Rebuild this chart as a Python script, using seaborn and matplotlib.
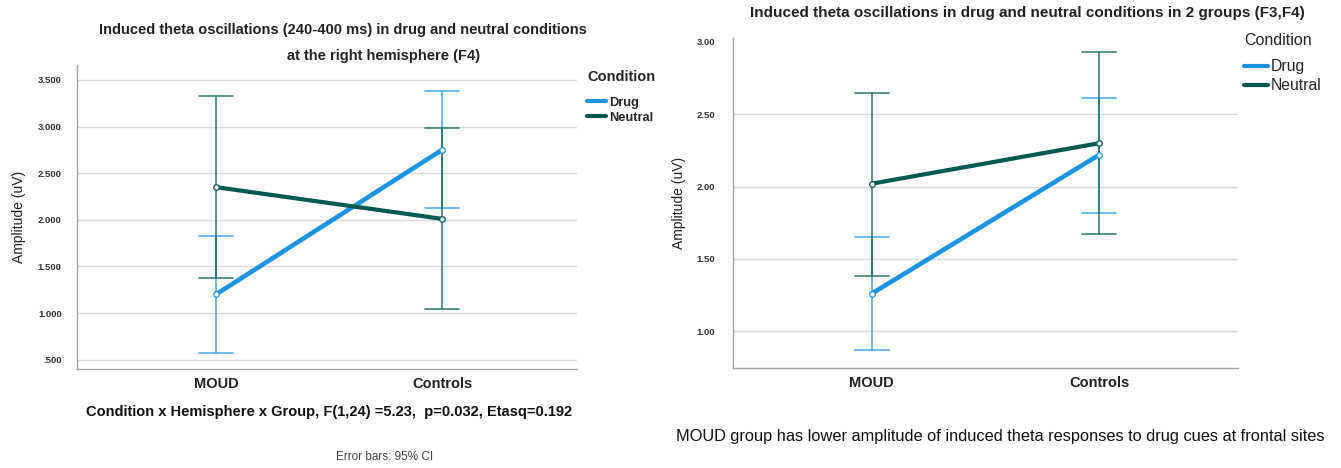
import numpy as np
import pandas as pd
import matplotlib
matplotlib.use("Agg")
import matplotlib.pyplot as plt
from matplotlib.lines import Line2D
import seaborn as sns

# ---------------- data ----------------
groups = ["MOUD", "Controls"]
conditions = ["Drug", "Neutral"]

# Left panel: right hemisphere (F4), means and 95% CI bounds
f4_mean_drug = [1.20, 2.75]
f4_lo_drug = [0.57, 2.13]
f4_hi_drug = [1.83, 3.38]
f4_mean_neutral = [2.35, 2.01]
f4_lo_neutral = [1.38, 1.04]
f4_hi_neutral = [3.33, 2.98]

# Right panel: frontal sites (F3, F4)
f34_mean_drug = [1.26, 2.22]
f34_lo_drug = [0.87, 1.82]
f34_hi_drug = [1.65, 2.61]
f34_mean_neutral = [2.02, 2.30]
f34_lo_neutral = [1.38, 1.67]
f34_hi_neutral = [2.65, 2.93]

left_ticks = [0.5, 1.0, 1.5, 2.0, 2.5, 3.0, 3.5]
left_tick_labels = [".500", "1.000", "1.500", "2.000", "2.500", "3.000", "3.500"]
right_ticks = [1.0, 1.5, 2.0, 2.5, 3.0]
right_tick_labels = ["1.00", "1.50", "2.00", "2.50", "3.00"]

colors = {"Drug": "#1b95e3", "Neutral": "#00594f"}

def long_frame(mean_d, lo_d, hi_d, mean_n, lo_n, hi_n):
    rows = []
    for cond, (m, lo, hi) in {"Drug": (mean_d, lo_d, hi_d),
                              "Neutral": (mean_n, lo_n, hi_n)}.items():
        for i, g in enumerate(groups):
            for v in (lo[i], m[i], hi[i]):
                rows.append({"Group": g, "Condition": cond, "Amplitude": v})
    return pd.DataFrame(rows)

df_left = long_frame(f4_mean_drug, f4_lo_drug, f4_hi_drug,
                     f4_mean_neutral, f4_lo_neutral, f4_hi_neutral)
df_right = long_frame(f34_mean_drug, f34_lo_drug, f34_hi_drug,
                      f34_mean_neutral, f34_lo_neutral, f34_hi_neutral)

sns.set_theme(style="white")
plt.rcParams["font.family"] = ["Liberation Sans", "DejaVu Sans"]

fig = plt.figure(figsize=(13.41, 4.68), dpi=100)
axL = fig.add_axes([77 / 1341, 1 - 369 / 468, 500 / 1341, 304 / 468])
axR = fig.add_axes([733 / 1341, 1 - 368 / 468, 505 / 1341, 330 / 468])

def draw(ax, df):
    sns.pointplot(data=df, x="Group", y="Amplitude", hue="Condition",
                  order=groups, hue_order=conditions, palette=colors,
                  estimator="median", errorbar=lambda v: (v.min(), v.max()),
                  capsize=0.15, markers="o", linestyles="-", dodge=False,
                  err_kws={"linewidth": 1.2, "alpha": 0.75},
                  lw=3.3, markersize=4.0, markerfacecolor="white",
                  markeredgewidth=0.9, ax=ax)
    for ln in ax.lines:
        if ln.get_marker() == "o":
            ln.set_zorder(4)
            if matplotlib.colors.to_hex(ln.get_color()) == colors["Neutral"]:
                ln.set_linewidth(3.0)
    if ax.get_legend() is not None:
        ax.get_legend().remove()
    ax.set_xlabel("")
    ax.set_ylabel("Amplitude (uV)", fontsize=10, color="#222222")
    for s in ["top", "right"]:
        ax.spines[s].set_visible(False)
    for s in ["left", "bottom"]:
        ax.spines[s].set_color("#a6a6a6")
        ax.spines[s].set_linewidth(1.0)
    ax.yaxis.grid(True, color="#d9d9d9", linewidth=1.0)
    ax.set_axisbelow(True)
    ax.tick_params(axis="x", length=0, labelsize=10.5, pad=6)
    for t in ax.get_xticklabels():
        t.set_fontweight("bold")
        t.set_color("#222222")

draw(axL, df_left)
draw(axR, df_right)

# left axes
axL.set_xlim(-0.615, 1.597)
axL.set_ylim(0.40, 3.66)
axL.set_yticks(left_ticks)
axL.set_yticklabels(left_tick_labels, fontsize=6.8, fontweight="bold", color="#333333")
axL.tick_params(axis="y", length=0, pad=11)
axL.yaxis.set_label_coords(-0.102, 0.5)

# right axes
axR.set_xlim(-0.609, 1.609)
axR.set_ylim(0.746, 3.027)
axR.set_yticks(right_ticks)
axR.set_yticklabels(right_tick_labels, fontsize=6.8, fontweight="bold", color="#333333")
axR.tick_params(axis="y", length=4, direction="in", color="#a6a6a6", pad=13)
axR.yaxis.set_label_coords(-0.093, 0.5)
axR.get_ygridlines()[-1].set_visible(False)

# legends
def legend(ax, x, y, title_size, label_size, weight, title_weight, gap):
    handles = [Line2D([0], [0], color=colors[c], lw=3.0) for c in conditions]
    leg = ax.legend(handles, conditions, loc="upper left",
                    bbox_to_anchor=(x, y), bbox_transform=fig.transFigure,
                    frameon=False, handlelength=1.5, handletextpad=0.2,
                    labelspacing=0.25, borderpad=0, borderaxespad=0,
                    title="Condition",
                    prop={"size": label_size, "weight": weight})
    leg.get_title().set_fontsize(title_size)
    leg.get_title().set_fontweight(title_weight)
    leg._legend_box.align = "left"
    leg._legend_box.sep = gap
    return leg

legend(axL, 587 / 1341, 1 - 70 / 468, 10.5, 9.3, "bold", "bold", 9)
legend(axR, 1244 / 1341, 1 - 33 / 468, 11.5, 11.3, "normal", "normal", 8)

# titles and captions
fig.text(343 / 1341, 1 - 30 / 468, "Induced theta oscillations (240-400 ms) in drug and neutral conditions",
         ha="center", va="center", fontsize=10.5, fontweight="bold", color="#222222")
fig.text(384 / 1341, 1 - 56 / 468, "at the right hemisphere (F4)",
         ha="center", va="center", fontsize=10.5, fontweight="bold", color="#222222")
fig.text(329 / 1341, 1 - 412 / 468,
         "Condition x Hemisphere x Group, F(1,24) =5.23,  p=0.032, Etasq=0.192",
         ha="center", va="center", fontsize=10.5, fontweight="bold", color="#111111")
fig.text(385 / 1341, 1 - 457 / 468, "Error bars: 95% CI",
         ha="center", va="center", fontsize=8.5, color="#444444")

fig.text(1027 / 1341, 1 - 13 / 468,
         "Induced theta oscillations in drug and neutral conditions in 2 groups (F3,F4)",
         ha="center", va="center", fontsize=11, fontweight="bold", color="#222222")
fig.text(1000 / 1341, 1 - 437 / 468,
         "MOUD group has lower amplitude of induced theta responses to drug cues at frontal sites",
         ha="center", va="center", fontsize=11.8, color="#111111")

fig.savefig("out.png", dpi=100)
